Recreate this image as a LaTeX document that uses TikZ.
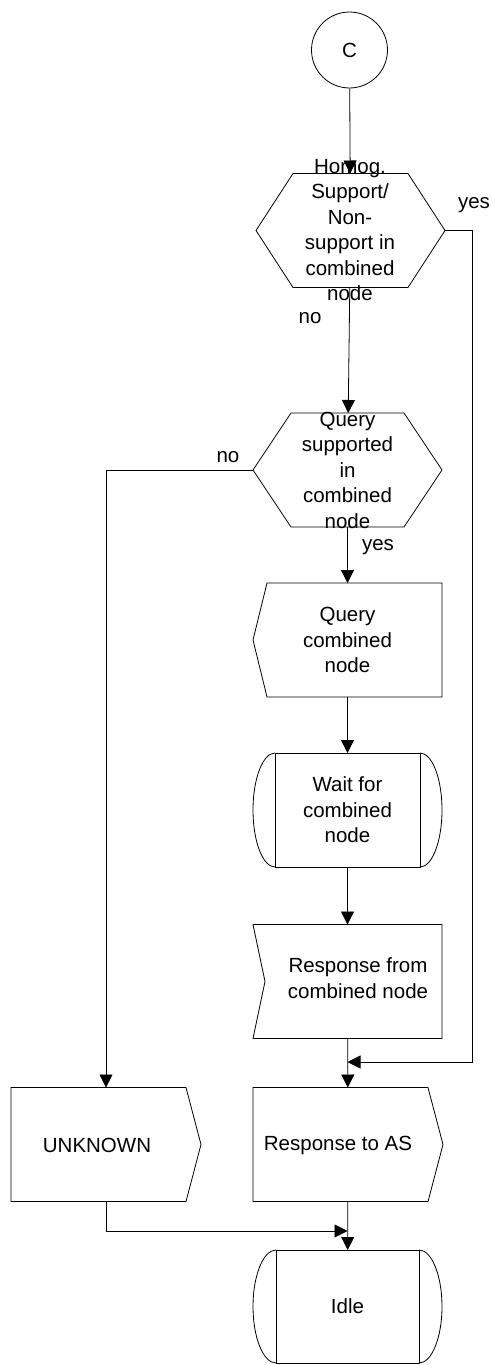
\documentclass[tikz,border=0pt]{standalone}
\usepackage{fontspec}
\setmainfont{Liberation Sans}
\usetikzlibrary{arrows.meta}

\begin{document}
\begin{tikzpicture}[line width = 0.8pt, font = \fontsize{20.5pt}{25.5pt}\selectfont,
        box/.style = {rectangle, minimum width = 189pt, minimum height = 114pt, inner sep = 0pt, outer sep = 0pt, align = center},
        txt/.style = {align = center, inner sep = 0pt},
        arr/.style = {-{Triangle[length = 13pt, width = 13pt]}}]
        \useasboundingbox (0pt, 0pt) rectangle (491pt, -1365pt);

        % Nodes
        \node [draw, circle, minimum size = 76pt, inner sep = 0pt] (c) at (349.5pt, -50pt) {C};
        \node [box] (h1) at (350.5pt, -230.5pt) {};
        \node [box] (h2) at (347.5pt, -470pt) {};
        \node [box] (qc) at (347.5pt, -640pt) {Query\\combined\\node};
        \node [box] (wt) at (347.5pt, -810pt) {Wait for\\combined\\node};
        \node [box] (rf) at (347.5pt, -981.5pt) {};
        \node [box, minimum width = 190pt] (ra) at (348pt, -1144.5pt) {};
        \node [box, minimum width = 190pt] (unk) at (106pt, -1144.5pt) {};
        \node [box, minimum height = 113pt] (idle) at (347.5pt, -1306.5pt) {Idle};
        \coordinate (yc) at (472pt, -1062pt);
        \coordinate (j1) at (347.5pt, -1062pt);
        \coordinate (j2) at (347.5pt, -1231pt);

        % Texts
        \node [txt] (h1t) at (350pt, -230pt) {Homog.\\Support/\\Non-\\support in\\combined\\node};
        \node [txt] (h2t) at (347.5pt, -470pt) {Query\\supported\\in\\combined\\node};
        \node [txt] (rft) at (358pt, -978pt) {Response from\\combined node};
        \node [txt] (rat) at (338pt, -1145pt) {Response to AS};
        \node [txt] (unkt) at (97pt, -1145pt) {UNKNOWN};

        % Outlines
        \draw ([xshift = 37pt]h1.north west) -- ([xshift = -37pt]h1.north east) -- (h1.east)
            -- ([xshift = -37pt]h1.south east) -- ([xshift = 37pt]h1.south west) -- (h1.west) -- cycle;
        \draw ([xshift = 38pt]h2.north west) -- ([xshift = -38pt]h2.north east) -- (h2.east)
            -- ([xshift = -38pt]h2.south east) -- ([xshift = 38pt]h2.south west) -- (h2.west) -- cycle;
        \draw ([xshift = 14pt]qc.north west) -- (qc.north east) -- (qc.south east)
            -- ([xshift = 14pt]qc.south west) -- (qc.west) -- cycle;
        \draw ([xshift = 22pt]wt.north west) rectangle ([xshift = -22pt]wt.south east);
        \draw ([xshift = 22pt]wt.north west) arc [start angle = 90, end angle = 270, x radius = 22pt, y radius = 57pt];
        \draw ([xshift = -22pt]wt.north east) arc [start angle = 90, end angle = -90, x radius = 22pt, y radius = 57pt];
        \draw (rf.north west) -- (rf.north east) -- (rf.south east) -- (rf.south west)
            -- ([xshift = 12pt]rf.west) -- cycle;
        \draw (ra.north west) -- ([xshift = -15pt]ra.north east) -- (ra.east)
            -- ([xshift = -15pt]ra.south east) -- (ra.south west) -- cycle;
        \draw (unk.north west) -- ([xshift = -15pt]unk.north east) -- (unk.east)
            -- ([xshift = -15pt]unk.south east) -- (unk.south west) -- cycle;
        \draw ([xshift = 23pt]idle.north west) rectangle ([xshift = -23pt]idle.south east);
        \draw ([xshift = 23pt]idle.north west) arc [start angle = 90, end angle = 270, x radius = 23pt, y radius = 56.5pt];
        \draw ([xshift = -23pt]idle.north east) arc [start angle = 90, end angle = -90, x radius = 23pt, y radius = 56.5pt];

        % Lines
        \draw [arr] (c) -- (h1);
        \draw [arr] (h1) -- (h2);
        \draw [arr] (h1.east) -| (yc) -- (j1);
        \draw [arr] (h2.west) -| (unk.north);
        \draw [arr] (h2) -- (qc);
        \draw [arr] (qc) -- (wt);
        \draw [arr] (wt) -- (rf);
        \draw [arr] (rf) -- (ra);
        \draw [arr] (ra) -- (idle);
        \draw [arr] (unk.south) |- (j2);

        % Branch labels
        \node [txt] (yes1) at (474pt, -205pt) {yes};
        \node [txt] (no1) at (310pt, -318pt) {no};
        \node [txt] (no2) at (228pt, -457pt) {no};
        \node [txt] (yes2) at (378pt, -547pt) {yes};

    \end{tikzpicture}
\end{document}
